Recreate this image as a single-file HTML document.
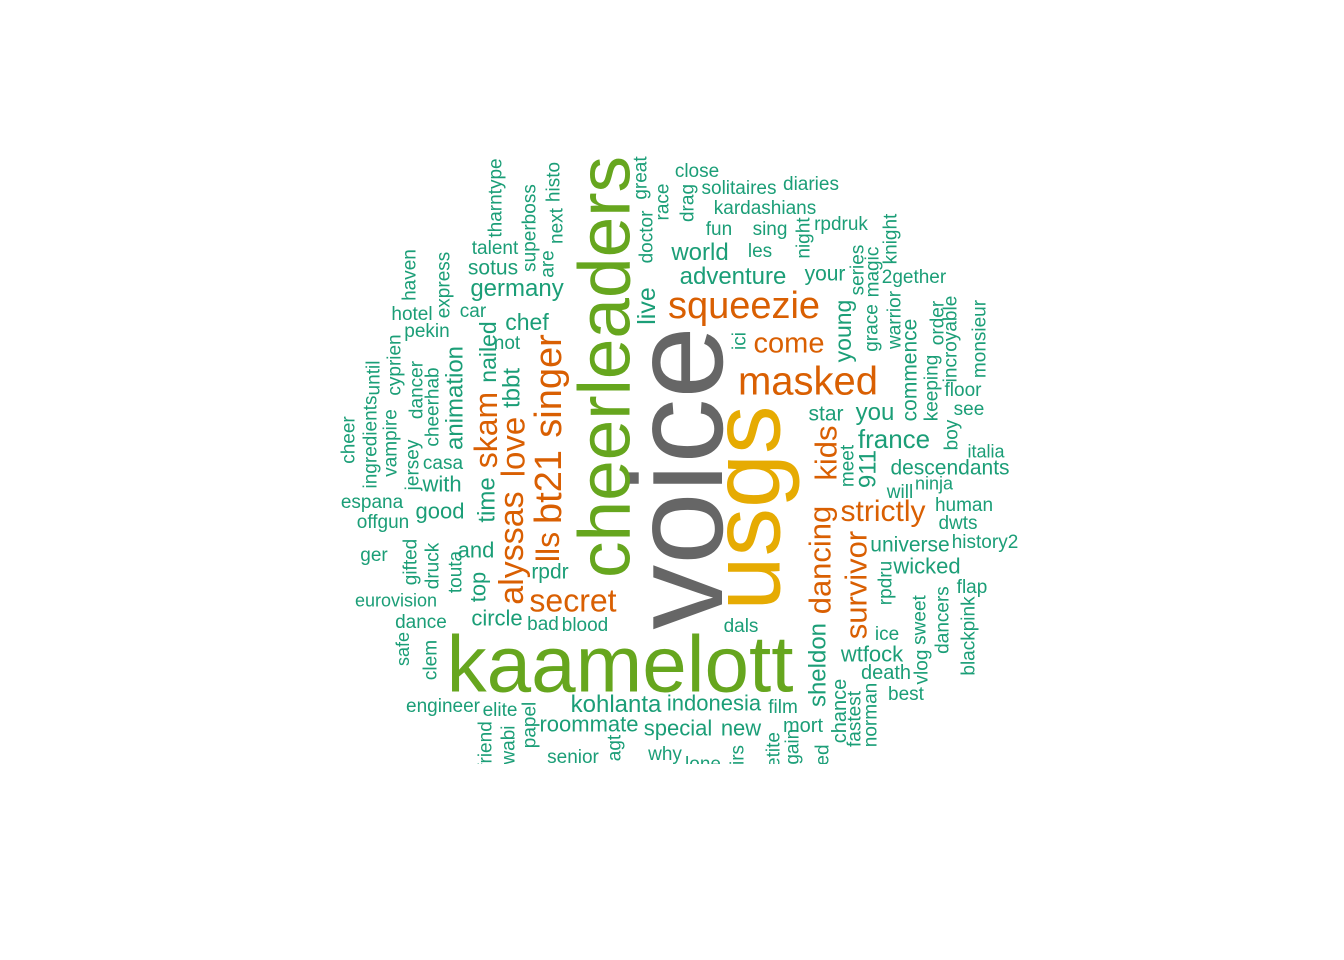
<!DOCTYPE html>
<html><head><meta charset="utf-8">
<style>
html,body{margin:0;padding:0;background:#fff;}
svg{display:block;}
text{font-family:"Liberation Sans",Arial,sans-serif;}
</style></head>
<body>
<svg id="cloud" width="1344" height="960" viewBox="0 0 1344 960">
<defs><clipPath id="clip"><rect x="0" y="0" width="1344" height="764"/></clipPath></defs>
<g id="words" clip-path="url(#clip)"></g>
</svg>
<script>
// word, size (frequency proxy), color class, rotated?, cx, cy
const words = ["voice","usgs","cheerleaders","kaamelott","squeezie","masked","come","singer","bt21","alyssas","love","skam","lls","secret","dancing","kids","survivor","strictly",
"close","solitaires","diaries","kardashians","fun","sing","rpdruk","world","les","your","adventure","2gether","star","you","floor","see","france","italia",
"race","drag","night","series","magic","knight","ici","young","grace","warrior","commence","keeping","order","incroyable","monsieur","boy",
"talent","sotus","germany","hotel","car","pekin","chef","not","tharntype","superboss","histo","next","are","great","doctor","live","haven","express","cyprien","until","ingredients","cheer","vampire","jersey","dancer","cheerhab","animation","nailed","tbbt",
"casa","with","espana","good","offgun","and","ger","rpdr","eurovision","circle","bad","blood","dance","engineer","elite","kohlanta","roommate","senior","time","gifted","druck","touta","top","safe","clem","friend","wabi","papel","agt",
"descendants","will","ninja","human","dwts","universe","history2","wicked","flap","ice","dals","wtfock","death","best","indonesia","film","special","new","mort","why","lone",
"meet","911","rpdru","sheldon","sweet","vlog","dancers","blackpink","chance","fastest","norman","etite","again","ed","irs"];
const sizes = [130,97,73,80,38,40,29,38,38,34,33,32,32,32,31,31,31,30,
19,19,19,19,19,19,19,24,19,21,24,19,21,24,19,19,26,18,
19,19,19,19,19,19,19,23,19,19,21,19,19,19,19,19,
19,21,24,19,19,19,23,19,19,19,19,19,19,19,19,25,19,19,19,19,19,19,19,19,19,19,24,23,24,
19,22,19,22,19,22,19,21,18,22,19,19,19,19,19,24,22,19,24,19,19,19,22,18,19,19,19,19,19,
21,19,18,19,19,21,19,22,19,19,19,22,20,19,22,19,22,22,20,19,19,
19,24,19,24,19,19,19,19,20,19,19,19,19,19,19];
const colors = ["K","Y","G","G","O","O","O","O","O","O","O","O","O","O","O","O","O","O"];
const rotated = [1,1,1,0,0,0,0,1,1,1,1,1,1,0,1,1,1,0,
0,0,0,0,0,0,0,0,0,0,0,0,0,0,0,0,0,0,
1,1,1,1,1,1,1,1,1,1,1,1,1,1,1,1,
0,0,0,0,0,0,0,0,1,1,1,1,1,1,1,1,1,1,1,1,1,1,1,1,1,1,1,1,1,
0,0,0,0,0,0,0,0,0,0,0,0,0,0,0,0,0,0,1,1,1,1,1,1,1,1,1,1,1,
0,0,0,0,0,0,0,0,0,0,0,0,0,0,0,0,0,0,0,0,0,
1,1,1,1,1,1,1,1,1,1,1,1,1,1,1];
const layoutX = [677,746,605,620,744,808,789,549,549,512,513,486,548,573,820,826,856,883,
697,739,811,765,719,770,841,700,760,825,733,914,826,875,963,969,894,986,
663,688,804,858,873,891,740,843,872,895,910,932,938,951,980,952,
495,493,517,412,473,427,527,507,496,530,554,557,548,641,647,647,410,444,395,374,371,349,391,413,417,433,455,488,512,
443,442,372,440,383,476,374,550,396,497,543,585,421,443,500,616,589,573,487,411,433,456,478,403,431,486,509,530,615,
950,900,934,964,958,910,985,927,972,887,741,872,886,906,714,783,678,741,803,665,703,
848,868,886,818,920,922,943,969,840,855,871,774,793,823,738];
const layoutY = [478,508,367,664,308,384,345,386,487,548,447,430,547,603,560,453,585,513,
172,189,185,209,230,230,225,254,252,275,278,278,415,414,391,410,441,453,
202,203,238,270,272,239,341,331,328,320,370,388,323,339,339,435,
249,269,290,315,312,332,324,344,198,228,182,226,264,178,237,306,275,285,365,378,442,440,443,465,390,407,398,352,388,
464,486,503,513,523,552,556,573,602,620,625,626,623,707,711,706,726,758,500,562,566,572,587,649,660,745,745,725,748,
469,493,485,506,524,546,543,568,588,635,627,656,674,695,705,708,730,730,727,755,765,
466,469,583,665,620,667,620,636,711,719,715,750,752,755,755];

const palette = {K:"#666666",Y:"#E6AB02",G:"#66A61E",O:"#D95F02",T:"#1B9E77"};
const g = document.getElementById('words');
const NS = "http://www.w3.org/2000/svg";
for (let i = 0; i < words.length; i++) {
  const t = document.createElementNS(NS, 'text');
  const s = sizes[i];
  const col = palette[colors[i] || "T"];
  const x = layoutX[i], y = layoutY[i];
  t.setAttribute('font-size', s);
  t.setAttribute('fill', col);
  t.setAttribute('text-anchor', 'middle');
  if (rotated[i]) {
    t.setAttribute('x', x);
    t.setAttribute('y', y);
    t.setAttribute('dominant-baseline', 'central');
    t.setAttribute('transform', 'rotate(-90 ' + x + ' ' + y + ')');
  } else if (i === 3) {
    t.setAttribute('x', x);
    t.setAttribute('y', y);
    t.setAttribute('dominant-baseline', 'central');
  } else {
    t.setAttribute('x', x);
    t.setAttribute('y', y + 0.26 * s);
  }
  t.textContent = words[i];
  
  
  g.appendChild(t);
}
</script>
</body></html>
